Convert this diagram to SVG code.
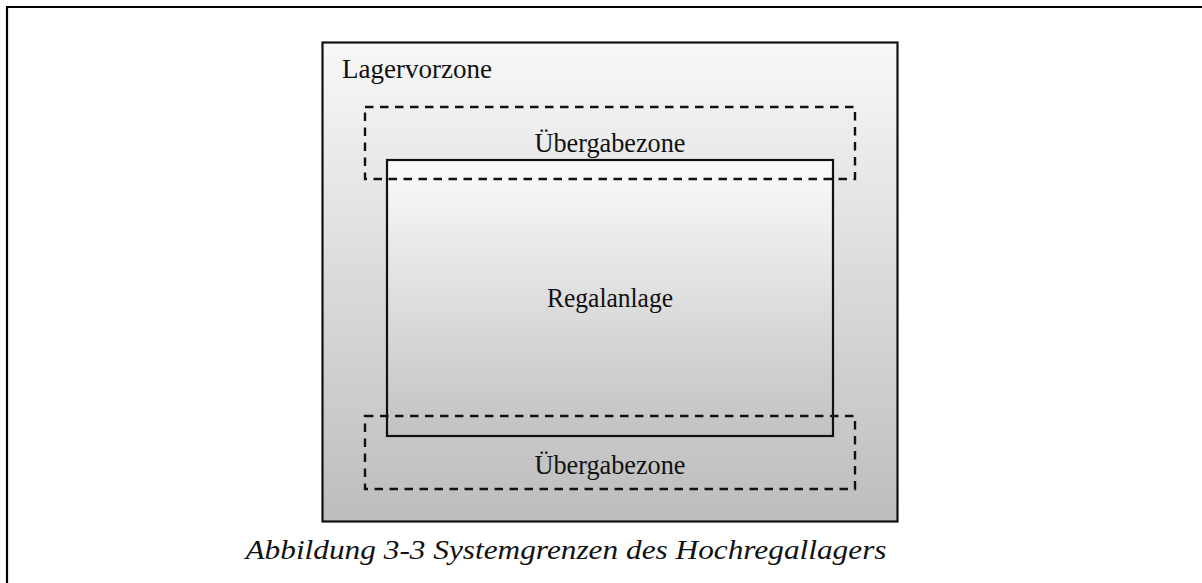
<svg xmlns="http://www.w3.org/2000/svg" width="1202" height="583" viewBox="0 0 1202 583">
  <defs>
    <linearGradient id="zoneFill" x1="0" y1="0" x2="0" y2="1">
      <stop offset="0" stop-color="#f8f8f8"/>
      <stop offset="1" stop-color="#bdbdbd"/>
    </linearGradient>
    <linearGradient id="rackFill" x1="0" y1="0" x2="0" y2="1">
      <stop offset="0" stop-color="#fbfbfb"/>
      <stop offset="1" stop-color="#c2c2c2"/>
    </linearGradient>
    <style>
      .label { font-family: "Liberation Serif", "DejaVu Serif", serif; font-size: 27px; fill: #111; }
      .caption { font-family: "Liberation Serif", "DejaVu Serif", serif; font-size: 28px; font-style: italic; fill: #111; }
      .solid { stroke: #111; stroke-width: 2.2; }
      .dashed { fill: none; stroke: #111; stroke-width: 2.4; stroke-dasharray: 8.5 6.5; }
    </style>
  </defs>
  <rect width="1202" height="583" fill="#ffffff"/>

  <!-- page frame -->
  <path d="M7 583 V7 H1202" fill="none" stroke="#000" stroke-width="2.2"/>

  <g id="lagervorzone">
    <rect x="322.5" y="42.5" width="575" height="479" fill="url(#zoneFill)" class="solid"/>
    <text class="label" x="342" y="78" textLength="150" lengthAdjust="spacingAndGlyphs">Lagervorzone</text>
  </g>

  <g id="regalanlage">
    <rect x="387" y="160" width="446" height="276" fill="url(#rackFill)" class="solid"/>
    <text class="label" x="610" y="307" text-anchor="middle" textLength="126" lengthAdjust="spacingAndGlyphs">Regalanlage</text>
  </g>

  <g id="uebergabezone-oben">
    <rect x="365" y="107" width="490" height="72" class="dashed"/>
    <text class="label" x="610" y="152" text-anchor="middle" textLength="151" lengthAdjust="spacingAndGlyphs">Übergabezone</text>
  </g>

  <g id="uebergabezone-unten">
    <rect x="365" y="416" width="490" height="73" class="dashed"/>
    <text class="label" x="610" y="474" text-anchor="middle" textLength="151" lengthAdjust="spacingAndGlyphs">Übergabezone</text>
  </g>

  <g id="connectors"/>

  <text class="caption" x="566" y="559" text-anchor="middle" textLength="641" lengthAdjust="spacingAndGlyphs">Abbildung 3-3 Systemgrenzen des Hochregallagers</text>
</svg>
